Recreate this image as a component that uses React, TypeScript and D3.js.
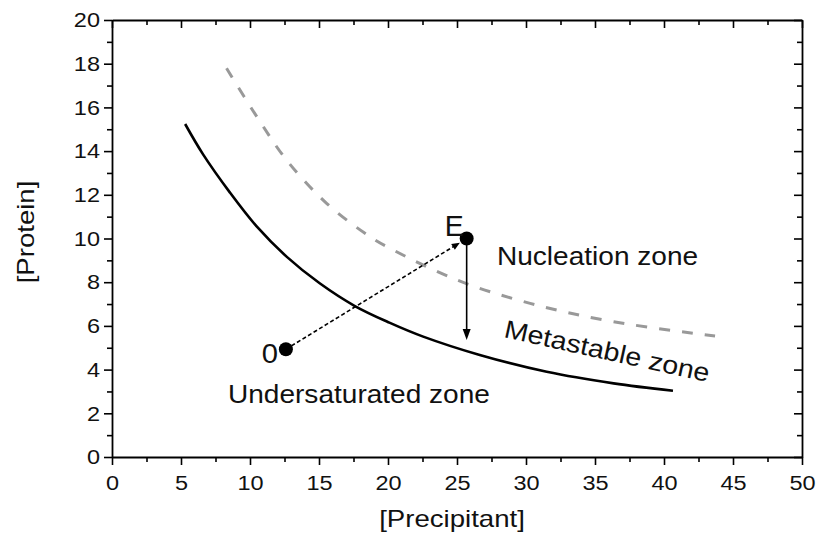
import React, { useEffect, useRef } from "react";
import * as d3 from "d3";

// curves
const solidX = [5.3, 6.6, 8.55, 10.5, 12.65, 15.05, 17.6, 20.1, 22.55, 26.65, 31.5, 36.35, 40.65];
const solidY = [15.24, 13.85, 12.1, 10.54, 9.17, 7.95, 6.91, 6.15, 5.51, 4.67, 3.9, 3.37, 3.03];
const dashX = [8.3, 10.5, 12.65, 15.55, 18.7, 20.15, 25.0, 30.3, 36.35, 43.7];
const dashY = [17.79, 15.57, 13.59, 11.61, 10.08, 9.55, 8.1, 7.03, 6.19, 5.54];

// the two marked states and the drop from E
const pointNames = ["0", "E"];
const pointX = [12.6, 25.7];
const pointY = [4.93, 10];
const dropY = 5.35;

const xTicks = [0, 5, 10, 15, 20, 25, 30, 35, 40, 45, 50];
const xMinor = [2.5, 7.5, 12.5, 17.5, 22.5, 27.5, 32.5, 37.5, 42.5, 47.5];
const yTicks = [0, 2, 4, 6, 8, 10, 12, 14, 16, 18, 20];
const yMinor = [1, 3, 5, 7, 9, 11, 13, 15, 17, 19];

const FONT = "'Liberation Sans', Arial, sans-serif";

const App = () => {
  const svgRef = useRef(null);

  useEffect(() => {
    const w = 819;
    const h = 539;
    const m = { left: 112, right: 17, top: 20, bottom: 82 };
    const svg = d3.select(svgRef.current).attr("width", w).attr("height", h);
    svg.selectAll("*").remove();

    const x = d3.scaleLinear().domain([0, 50]).range([m.left, w - m.right]);
    const y = d3.scaleLinear().domain([0, 20]).range([h - m.bottom, m.top]);

    const tickStretch = 1.12;

    // axes: major ticks with labels, minor ticks without
    const styleAxis = (g) => {
      g.selectAll("path.domain").attr("stroke", "#000").attr("stroke-width", 1.8);
      g.selectAll(".tick line").attr("stroke", "#000").attr("stroke-width", 1.6);
      g.selectAll("text")
        .attr("font-family", FONT)
        .attr("font-size", 21)
        .attr("fill", "#111")
        .attr("transform", `scale(${tickStretch},1)`);
    };
    const addAxis = (axisFn, scale, ticks, minor, transform, labels) => {
      const major = axisFn(scale).tickValues(ticks).tickSize(8).tickPadding(labels ? 10 : 0).tickSizeOuter(0);
      if (!labels) major.tickFormat(() => "");
      const g = svg.append("g").attr("transform", transform).call(major);
      const gm = svg
        .append("g")
        .attr("transform", transform)
        .call(axisFn(scale).tickValues(minor).tickSize(5).tickFormat(() => "").tickSizeOuter(0));
      gm.select("path.domain").remove();
      styleAxis(g);
      styleAxis(gm);
      return g;
    };
    addAxis(d3.axisBottom, x, xTicks, xMinor, `translate(0,${h - m.bottom})`, true);
    addAxis(d3.axisBottom, x, xTicks, xMinor, `translate(0,${m.top})`, false);
    const left = addAxis(d3.axisLeft, y, yTicks, yMinor, `translate(${m.left},0)`, true);
    left.selectAll("text").attr("x", -12 / tickStretch);
    addAxis(d3.axisLeft, y, yTicks, yMinor, `translate(${w - m.right},0)`, false);

    const line = d3
      .line()
      .x((d) => x(d[0]))
      .y((d) => y(d[1]))
      .curve(d3.curveCatmullRom.alpha(0.5));

    // metastable limit (grey dashed)
    svg
      .append("path")
      .attr("d", line(d3.zip(dashX, dashY)))
      .attr("fill", "none")
      .attr("stroke", "#999")
      .attr("stroke-width", 3)
      .attr("stroke-dasharray", "11,12");

    // solubility curve
    svg
      .append("path")
      .attr("d", line(d3.zip(solidX, solidY)))
      .attr("fill", "none")
      .attr("stroke", "#000")
      .attr("stroke-width", 2.6);

    const head = (x1, y1, x2, y2, len, half) => {
      const a = Math.atan2(y2 - y1, x2 - x1);
      const bx = x2 - len * Math.cos(a);
      const by = y2 - len * Math.sin(a);
      const px = -Math.sin(a) * half;
      const py = Math.cos(a) * half;
      return `M${x2},${y2}L${bx + px},${by + py}L${bx - px},${by - py}Z`;
    };

    const r = 7;
    const sx = x(pointX[0]);
    const sy = y(pointY[0]);
    const ex = x(pointX[1]);
    const ey = y(pointY[1]);

    // dotted path 0 -> E
    const ang = Math.atan2(ey - sy, ex - sx);
    const tx = ex - (r + 1) * Math.cos(ang);
    const ty = ey - (r + 1) * Math.sin(ang);
    svg
      .append("line")
      .attr("x1", sx)
      .attr("y1", sy)
      .attr("x2", tx - 6 * Math.cos(ang))
      .attr("y2", ty - 6 * Math.sin(ang))
      .attr("stroke", "#000")
      .attr("stroke-width", 1.6)
      .attr("stroke-dasharray", "4,2.5");
    svg.append("path").attr("d", head(sx, sy, tx, ty, 8, 3.5)).attr("fill", "#000");

    // drop from E
    const dy = y(dropY);
    svg
      .append("line")
      .attr("x1", ex)
      .attr("y1", ey)
      .attr("x2", ex)
      .attr("y2", dy - 8)
      .attr("stroke", "#000")
      .attr("stroke-width", 1.6);
    svg.append("path").attr("d", head(ex, ey, ex, dy, 11, 4)).attr("fill", "#000");

    svg
      .selectAll("circle.pt")
      .data(pointNames)
      .join("circle")
      .attr("class", "pt")
      .attr("cx", (d, i) => x(pointX[i]))
      .attr("cy", (d, i) => y(pointY[i]))
      .attr("r", r)
      .attr("fill", "#000");

    // text helper, slightly wide lettering like the original
    const label = (txt, px, py, size, stretch, opts = {}) => {
      const g = svg
        .append("g")
        .attr("transform", `translate(${px},${py}) rotate(${opts.rotate || 0}) scale(${stretch},1)`);
      g.append("text")
        .attr("font-family", FONT)
        .attr("font-size", size)
        .attr("fill", "#111")
        .attr("text-anchor", opts.anchor || "start")
        .text(txt);
    };

    label(pointNames[0], sx - 8, sy + 14, 27, 1.08, { anchor: "end" });
    label(pointNames[1], ex - 3, ey - 3, 30, 0.95, { anchor: "end" });
    label("Nucleation zone", 497, 265, 25.5, 1.1);
    label("Metastable zone", 503, 337, 25.5, 1.12, { rotate: 12.4 });
    label("Undersaturated zone", 228, 403, 25.5, 1.1);

    label("[Precipitant]", 452, 527, 23, 1.2, { anchor: "middle" });
    label("[Protein]", 34, 232, 23, 1.2, { anchor: "middle", rotate: -90 });
  }, []);

  return (
    <div>
      <svg ref={svgRef} style={{ position: "absolute", left: 0, top: 0, background: "#fff" }}></svg>
    </div>
  );
};

export default App;
